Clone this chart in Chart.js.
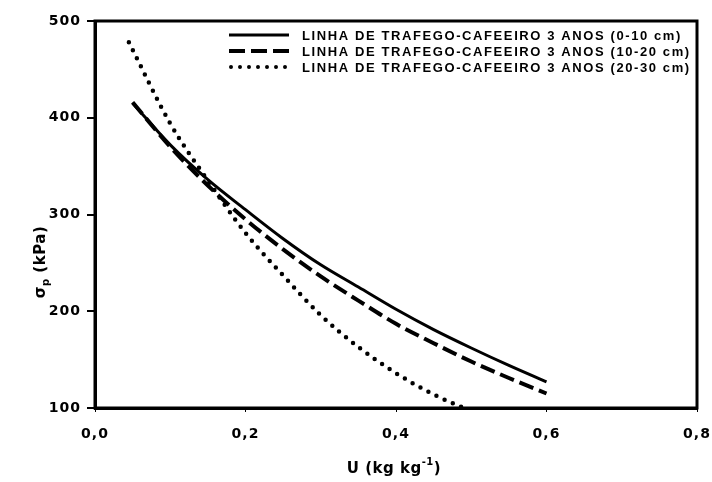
<!DOCTYPE html>
<html lang="pt">
  <head>
    <meta charset="UTF-8" />
    <title>Pressão de preconsolidação x umidade</title>
    <script src="https://cdn.jsdelivr.net/npm/chart.js@4.4.1/dist/chart.umd.min.js"></script>
    <style>
      html, body { margin: 0; padding: 0; background: #fff; }
      #wrap { width: 712px; height: 482px; }
    </style>
  </head>
  <body>
    <div id="wrap"><canvas id="myChart"></canvas></div>

    <script>
      // umidade (kg/kg) e sigma_p (kPa) para cada camada
      const u_0_10 = [0.05, 0.10, 0.15, 0.20, 0.25, 0.30, 0.35, 0.40, 0.45, 0.50, 0.55, 0.60];
      const sp_0_10 = [415, 372, 336, 305, 275, 248, 225, 202, 181, 162, 144, 127];

      const u_10_20 = [0.05, 0.10, 0.15, 0.20, 0.25, 0.30, 0.35, 0.40, 0.45, 0.50, 0.55, 0.60];
      const sp_10_20 = [416, 370, 330, 295, 264, 236, 211, 187, 167, 148, 131, 115];

      const u_20_30 = [0.045, 0.10, 0.15, 0.20, 0.25, 0.30, 0.35, 0.40, 0.45, 0.49];
      const sp_20_30 = [478, 394, 335, 281, 237, 196, 163, 136, 114, 100];

      const labels = [
        "LINHA DE TRAFEGO-CAFEEIRO 3 ANOS (0-10 cm)",
        "LINHA DE TRAFEGO-CAFEEIRO 3 ANOS (10-20 cm)",
        "LINHA DE TRAFEGO-CAFEEIRO 3 ANOS (20-30 cm)",
      ];
      const xTicks = [0, 0.2, 0.4, 0.6, 0.8];
      const yTicks = [100, 200, 300, 400, 500];

      const FAMILY = "'DejaVu Sans', 'Liberation Sans', Arial, sans-serif";
      const TITLE_FONT = "bold 15px " + FAMILY;
      const SMALL_FONT = "bold 10px " + FAMILY;

      function pts(xs, ys) {
        return xs.map((x, i) => ({ x: x, y: ys[i] }));
      }

      const styles = [
        { dash: [], width: 3, cap: "butt" },
        { dash: [15, 6], width: 4, cap: "butt" },
        { dash: [0, 9], width: 4.5, cap: "round" },
      ];

      // espaçamento entre letras para os rótulos numéricos
      const spacing = {
        id: "spacing",
        beforeDraw(chart) {
          chart.ctx.letterSpacing = "1px";
        },
      };

      // legenda desenhada dentro da área do gráfico, canto superior direito
      const innerLegend = {
        id: "innerLegend",
        afterDraw(chart) {
          const ctx = chart.ctx;
          ctx.save();
          ctx.font = "bold 13px 'Liberation Sans', Arial, sans-serif";
          ctx.letterSpacing = "1.6px";
          ctx.fillStyle = "#000";
          ctx.textBaseline = "middle";
          const rows = [35, 51, 67];
          labels.forEach((txt, i) => {
            const s = styles[i];
            ctx.beginPath();
            ctx.setLineDash(i === 1 ? [16, 6] : s.dash);
            ctx.lineCap = s.cap;
            ctx.lineWidth = i === 2 ? 4 : s.width;
            ctx.strokeStyle = "#000";
            ctx.moveTo(i === 2 ? 231 : 229, rows[i]);
            ctx.lineTo(289, rows[i]);
            ctx.stroke();
            ctx.setLineDash([]);
            ctx.fillText(txt, 302, rows[i] + 1);
          });
          ctx.restore();
        },
      };

      // moldura e títulos dos eixos (com sub/sobrescrito)
      const frameTitles = {
        id: "frameTitles",
        afterDraw(chart) {
          const ctx = chart.ctx;
          const a = chart.chartArea;
          ctx.save();
          ctx.letterSpacing = "0.5px";
          ctx.strokeStyle = "#000";
          ctx.lineWidth = 3;
          ctx.strokeRect(a.left, a.top, a.right - a.left, a.bottom - a.top);

          ctx.fillStyle = "#000";
          ctx.textBaseline = "alphabetic";

          // eixo x: U (kg kg-1)
          ctx.font = TITLE_FONT;
          const t1 = "U (kg kg";
          const w1 = ctx.measureText(t1).width;
          ctx.font = SMALL_FONT;
          const w2 = ctx.measureText("-1").width;
          ctx.font = TITLE_FONT;
          const w3 = ctx.measureText(")").width;
          const x0 = 394 - (w1 + w2 + w3) / 2;
          const yb = 473;
          ctx.fillText(t1, x0, yb);
          ctx.font = SMALL_FONT;
          ctx.fillText("-1", x0 + w1, yb - 8);
          ctx.font = TITLE_FONT;
          ctx.fillText(")", x0 + w1 + w2, yb);

          // eixo y: sigma p (kPa), girado
          ctx.translate(45, 262);
          ctx.rotate(-Math.PI / 2);
          ctx.font = TITLE_FONT;
          const s1 = "σ";
          const sw1 = ctx.measureText(s1).width;
          ctx.font = SMALL_FONT;
          const sw2 = ctx.measureText("p").width;
          ctx.font = TITLE_FONT;
          const s3 = " (kPa)";
          const sw3 = ctx.measureText(s3).width;
          const sx = -(sw1 + sw2 + sw3) / 2;
          ctx.fillText(s1, sx, 0);
          ctx.font = SMALL_FONT;
          ctx.fillText("p", sx + sw1, 4);
          ctx.font = TITLE_FONT;
          ctx.fillText(s3, sx + sw1 + sw2, 0);
          ctx.restore();
        },
      };

      const ctx = document.getElementById("myChart").getContext("2d");
      const myChart = new Chart(ctx, {
        type: "scatter",
        data: {
          datasets: [
            { label: labels[0], data: pts(u_0_10, sp_0_10) },
            { label: labels[1], data: pts(u_10_20, sp_10_20) },
            { label: labels[2], data: pts(u_20_30, sp_20_30) },
          ].map((d, i) => ({
            ...d,
            showLine: true,
            borderColor: "#000",
            backgroundColor: "#000",
            borderWidth: styles[i].width,
            borderDash: styles[i].dash,
            borderCapStyle: styles[i].cap,
            pointRadius: 0,
            tension: 0.4,
            cubicInterpolationMode: "monotone",
          })),
        },
        options: {
          responsive: true,
          maintainAspectRatio: false,
          animation: false,
          layout: { padding: { left: 0, top: 21, right: 15, bottom: 0 } },
          plugins: {
            legend: { display: false },
            tooltip: { enabled: false },
          },
          scales: {
            x: {
              type: "linear",
              min: 0,
              max: 0.8,
              afterBuildTicks: (s) => { s.ticks = xTicks.map((v) => ({ value: v })); },
              afterFit: (s) => {
                s.height = 74;
                s.paddingLeft = 0;
                s.paddingRight = 0;
              },
              border: { display: true, color: "#000", width: 3 },
              grid: { drawOnChartArea: false, drawTicks: true, tickLength: 4, color: "#000", lineWidth: 1 },
              ticks: {
                color: "#000",
                font: { family: FAMILY, size: 14, weight: "bold" },
                padding: 14,
                maxRotation: 0,
                callback: (v) => v.toFixed(1).replace(".", ","),
              },
            },
            y: {
              type: "linear",
              min: 100,
              max: 500,
              afterBuildTicks: (s) => { s.ticks = yTicks.map((v) => ({ value: v })); },
              afterFit: (s) => {
                s.width = 95;
                s.paddingTop = 0;
                s.paddingBottom = 0;
              },
              border: { display: true, color: "#000", width: 3 },
              grid: { drawOnChartArea: false, drawTicks: true, tickLength: 8, color: "#000", lineWidth: 2 },
              ticks: {
                color: "#000",
                font: { family: FAMILY, size: 14, weight: "bold" },
                padding: 6,
              },
            },
          },
        },
        plugins: [spacing, frameTitles, innerLegend],
      });
    </script>
  </body>
</html>
